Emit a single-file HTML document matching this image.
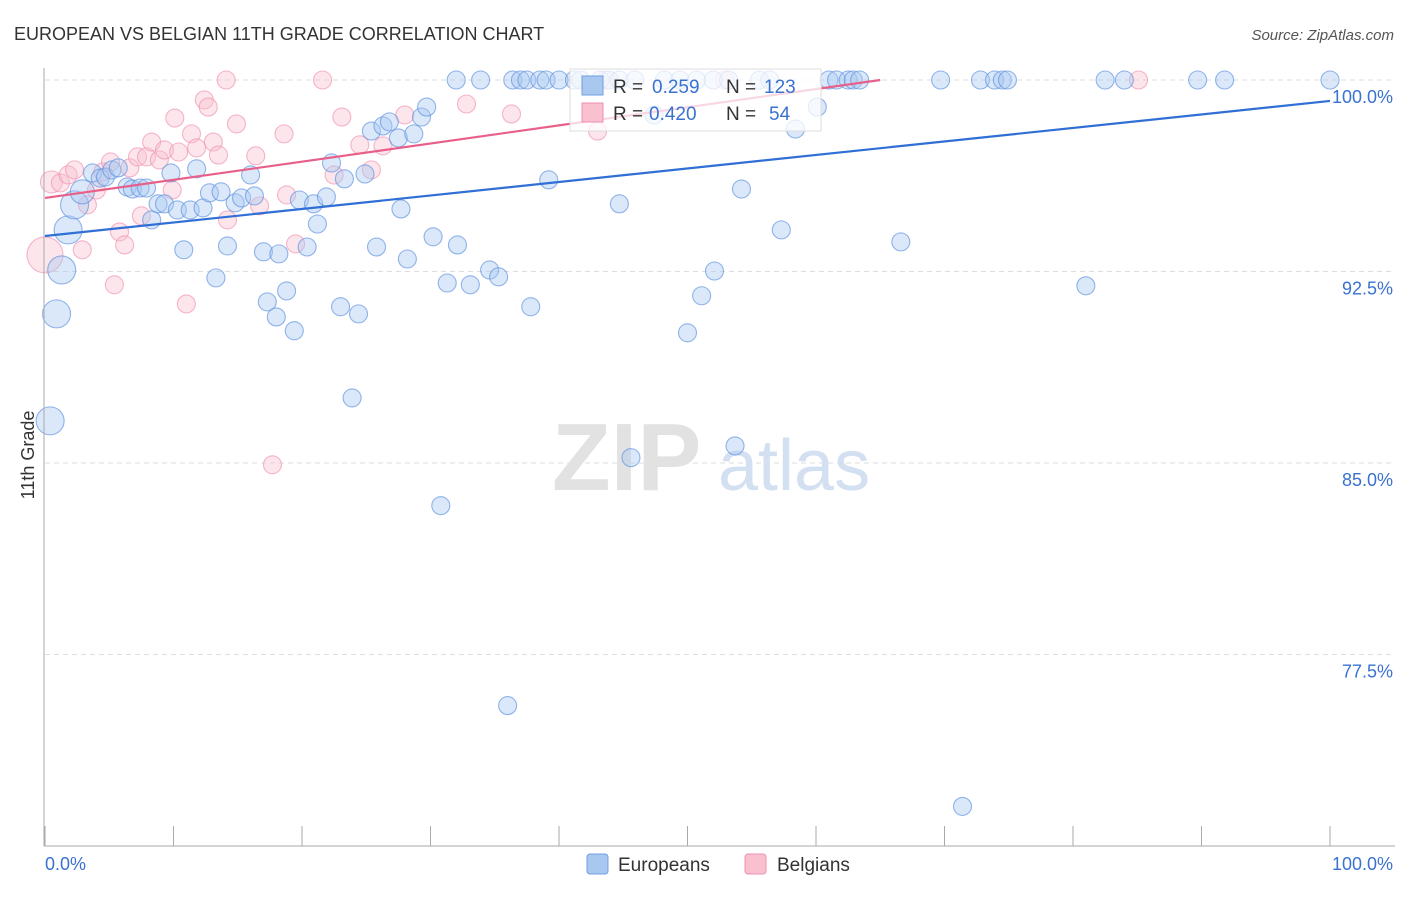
<!DOCTYPE html>
<html><head><meta charset="utf-8"><style>
body{margin:0;background:#fff;font-family:"Liberation Sans",sans-serif;}
svg text{font-family:"Liberation Sans",sans-serif;}
</style></head><body>
<svg width="1406" height="892" xmlns="http://www.w3.org/2000/svg">
<text x="14" y="40" font-size="18" fill="#333">EUROPEAN VS BELGIAN 11TH GRADE CORRELATION CHART</text>
<text x="1394" y="40" font-size="15" fill="#555" font-style="italic" text-anchor="end">Source: ZipAtlas.com</text>
<text x="34" y="455" font-size="18" fill="#333" transform="rotate(-90 34 455)" text-anchor="middle">11th Grade</text>
<g id="grid"></g>
<g><text x="552" y="490" font-size="96" fill="#e2e2e2" font-family="Liberation Serif" font-weight="bold">ZIP</text><text x="718" y="490" font-size="72" fill="#d3e0f2">atlas</text></g>
<g id="pts"></g>
<g id="trend"></g>
<g id="axes"></g>
<g>
<rect x="570" y="69" width="251" height="62" fill="#fff" fill-opacity="0.75" stroke="#ddd"/>
<rect x="582" y="76" width="21" height="19" fill="#a9c8f0" stroke="#6d9ee0"/>
<rect x="582" y="103" width="21" height="19" fill="#f9c0d0" stroke="#f090b0"/>
<text x="613" y="93" font-size="19" fill="#333">R = </text><text x="652" y="93" font-size="19" fill="#3a72d0">0.259</text>
<text x="726" y="93" font-size="19" fill="#333">N = </text><text x="764" y="93" font-size="19" fill="#3a72d0">123</text>
<text x="613" y="120" font-size="19" fill="#333">R = </text><text x="649" y="120" font-size="19" fill="#3a72d0">0.420</text>
<text x="726" y="120" font-size="19" fill="#333">N = </text><text x="769" y="120" font-size="19" fill="#3a72d0">54</text>
</g>
<g>
<rect x="587" y="854" width="21" height="20" rx="3" fill="#a9c8f0" stroke="#6d9ee0"/>
<text x="618" y="871" font-size="19" fill="#333">Europeans</text>
<rect x="745" y="854" width="21" height="20" rx="3" fill="#f9c0d0" stroke="#f090b0"/>
<text x="777" y="871" font-size="19" fill="#333">Belgians</text>
</g>
</svg>
<script>
const yTicks=[100,92.5,85,77.5];
const yTickLabels=["100.0%","92.5%","85.0%","77.5%"];
const xTickCount=10;
const blueTopX=[32.0,33.9,36.4,37.0,37.5,38.5,39.0,40.0,41.2,41.7,43.2,43.9,44.7,45.9,48.2,49.4,50.7,52.0,53.2,55.6,56.4,61.0,61.6,62.5,62.9,63.4,69.7,72.8,73.9,74.5,74.9,82.5,84.0,89.7,91.8,100];
const blueX=[0.4,0.9,1.3,1.8,2.3,2.9,3.7,4.3,4.7,5.2,5.7,6.4,6.8,7.4,7.9,8.3,8.8,9.3,9.8,10.3,10.8,11.3,11.8,12.3,12.8,13.3,13.7,14.2,14.8,15.3,16.0,16.3,17.0,17.3,18.0,18.2,18.8,19.4,19.8,20.4,20.9,21.2,21.9,22.3,23.0,23.3,23.9,24.4,24.9,25.4,25.8,26.3,26.8,27.5,27.7,28.2,28.7,29.3,29.7,30.2,30.8,31.3,32.1,33.1,34.6,35.3,36.0,37.8,39.2,44.7,45.6,50.0,51.1,52.1,53.7,54.2,57.3,58.4,60.1,66.6,71.4,81.0,47.4];
const blueY=[86.65,90.84,92.56,94.13,95.11,95.62,96.36,96.16,96.20,96.48,96.56,95.81,95.73,95.77,95.77,94.52,95.15,95.15,96.36,94.91,93.35,94.91,96.52,94.99,95.58,92.25,95.62,93.50,95.19,95.38,96.28,95.46,93.27,91.31,90.72,93.19,91.74,90.18,95.30,93.46,95.15,94.36,95.42,96.75,91.12,96.13,87.55,90.84,96.32,98.00,93.46,98.20,98.36,97.73,94.95,92.99,97.89,98.55,98.94,93.86,83.33,92.05,93.54,91.98,92.56,92.29,75.50,91.12,96.09,95.15,85.21,90.10,91.55,92.52,85.67,95.73,94.13,98.08,98.94,93.66,71.55,91.94,98.63];
const blueBig=[1,1,1,1,1,0.6];
const pinkX=[0,0.5,1.2,1.8,2.3,2.9,3.3,4.0,4.5,5.1,5.4,5.8,6.2,6.6,7.2,7.5,7.9,8.3,8.9,9.3,9.9,10.1,10.4,11.0,11.4,11.8,12.4,12.7,13.1,13.5,14.1,14.2,14.9,16.4,16.7,17.7,18.6,18.8,19.5,21.6,22.5,23.1,24.5,25.4,26.3,28.0,32.8,36.3,43.0,85.1,52.9,43.6];
const pinkY=[93.15,96.01,95.97,96.28,96.48,93.35,95.11,95.69,96.40,96.79,91.98,94.05,93.54,96.56,96.99,94.68,96.99,97.57,96.87,97.26,95.69,98.51,97.18,91.23,97.89,97.34,99.22,98.94,97.57,97.06,100,94.52,98.28,97.03,95.07,84.93,97.89,95.50,93.58,100,96.28,98.55,97.46,96.48,97.42,98.63,99.06,98.67,98.00,100,100,100];
const blueTrend=[[0,93.89],[100,99.18]];
const pinkTrend=[[0,95.38],[65,100]];
const NS='http://www.w3.org/2000/svg';
const X0=45,X1=1330,Y0=846,Y1=80;
const sx=v=>X0+(X1-X0)*v/100;
const sy=v=>Y0-(Y0-Y1)*(v-70)/30;
function mk(t,a,p){const e=document.createElementNS(NS,t);for(const k in a)e.setAttribute(k,a[k]);p.appendChild(e);return e;}
const grid=document.getElementById('grid'),axes=document.getElementById('axes'),pts=document.getElementById('pts'),trend=document.getElementById('trend');
yTicks.forEach((v,i)=>{
  const l=mk('line',{x1:X0,x2:1395,y1:sy(v),y2:sy(v),stroke:'#ddd','stroke-dasharray':'5,4'},grid);
  
  
  const t=mk('text',{x:1393,y:sy(v)+23,'font-size':18,fill:'#3a72d0','text-anchor':'end'},axes);
  t.textContent=yTickLabels[i];
  
  
});
mk('line',{x1:44,x2:44,y1:68,y2:846,stroke:'#aaa'},axes);
mk('line',{x1:44,x2:1395,y1:846,y2:846,stroke:'#aaa'},axes);
for(let i=0;i<=xTickCount;i++){
  const l=mk('line',{x1:sx(i*10),x2:sx(i*10),y1:826,y2:846,stroke:'#aaa'},axes);
  
  
}
const xl=mk('text',{x:45,y:870,'font-size':18,fill:'#3a72d0'},axes);xl.textContent='0.0%';


const xr=mk('text',{x:1393,y:870,'font-size':18,fill:'#3a72d0','text-anchor':'end'},axes);xr.textContent='100.0%';


function dot(x,y,r,blue){
  const c=mk('circle',{cx:sx(x),cy:sy(y),r:r,fill:blue?'#a9c8f0':'#f9c0d0','fill-opacity':0.42,stroke:blue?'#5a8fde':'#f090b0','stroke-opacity':0.65,'stroke-width':1.1},pts);
  
  
}
pinkX.forEach((x,i)=>dot(x,pinkY[i],i===0?18:(i===1?11:9),false));
blueTopX.forEach(x=>dot(x,100,9,true));
blueX.forEach((x,i)=>dot(x,blueY[i],9+5*(blueBig[i]||0),true));
const bt=mk('line',{x1:sx(blueTrend[0][0]),y1:sy(blueTrend[0][1]),x2:sx(blueTrend[1][0]),y2:sy(blueTrend[1][1]),stroke:'#2f6fd6','stroke-width':2.2},trend);


const pt=mk('line',{x1:sx(pinkTrend[0][0]),y1:sy(pinkTrend[0][1]),x2:sx(pinkTrend[1][0]),y2:sy(pinkTrend[1][1]),stroke:'#e8608a','stroke-width':2.2},trend);


</script>
</body></html>
